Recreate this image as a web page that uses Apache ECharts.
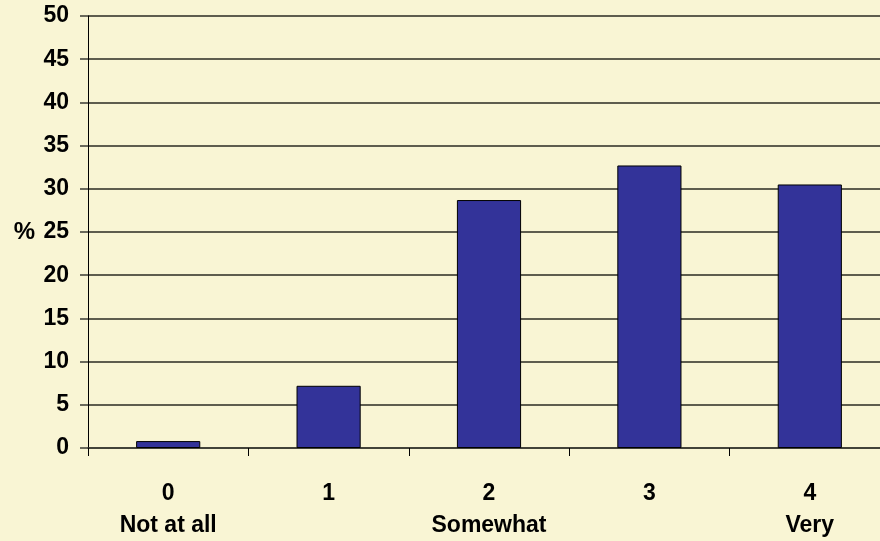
<!DOCTYPE html>
<html>
<head>
<meta charset="utf-8">
<script src="https://cdn.jsdelivr.net/npm/echarts@6/dist/echarts.min.js"></script>
<style>
html,body{margin:0;padding:0;background:#F9F5D4;}
#c{width:880px;height:541px;}
</style>
</head>
<body>
<div id="c"></div>
<script>
const categories = ['0\nNot at all', '1', '2\nSomewhat', '3', '4\nVery'];
const values = [0.8, 7.2, 28.7, 32.7, 30.5];
const yMin = 0, yMax = 50, yStep = 5;

const chart = echarts.init(document.getElementById('c'));
const font = 'Liberation Sans, Arial, sans-serif';
chart.setOption({
  backgroundColor: '#F9F5D4',
  animation: false,
  grid: {left: 88, top: 16, width: 802, height: 432, outerBoundsMode: 'none', containLabel: false},
  xAxis: {
    type: 'category',
    data: categories,
    axisLine: {show: true, lineStyle: {color: '#3b3b33', width: 1.5}},
    axisTick: {show: true, length: 8, lineStyle: {color: '#000', width: 1}},
    axisLabel: {
      color: '#000', fontFamily: font, fontWeight: 'bold', fontSize: 23,
      lineHeight: 32, margin: 30, interval: 0
    }
  },
  yAxis: {
    type: 'value',
    min: yMin, max: yMax, interval: yStep,
    name: '%',
    nameLocation: 'middle',
    nameRotate: 0,
    nameGap: 53,
    nameTextStyle: {color: '#000', fontFamily: font, fontWeight: 'bold', fontSize: 24, align: 'right', verticalAlign: 'middle'},
    axisLine: {show: true, lineStyle: {color: '#000', width: 1}},
    axisTick: {show: true, length: 8, lineStyle: {color: '#3b3b33', width: 1.5}},
    splitLine: {show: true, lineStyle: {color: '#2a2a22', width: 1.5}},
    axisLabel: {color: '#000', fontFamily: font, fontWeight: 'bold', fontSize: 23, margin: 19}
  },
  series: [{
    type: 'bar',
    data: values,
    barWidth: '40%',
    itemStyle: {color: '#333399', borderColor: '#000', borderWidth: 1}
  }]
});
</script>
</body>
</html>
